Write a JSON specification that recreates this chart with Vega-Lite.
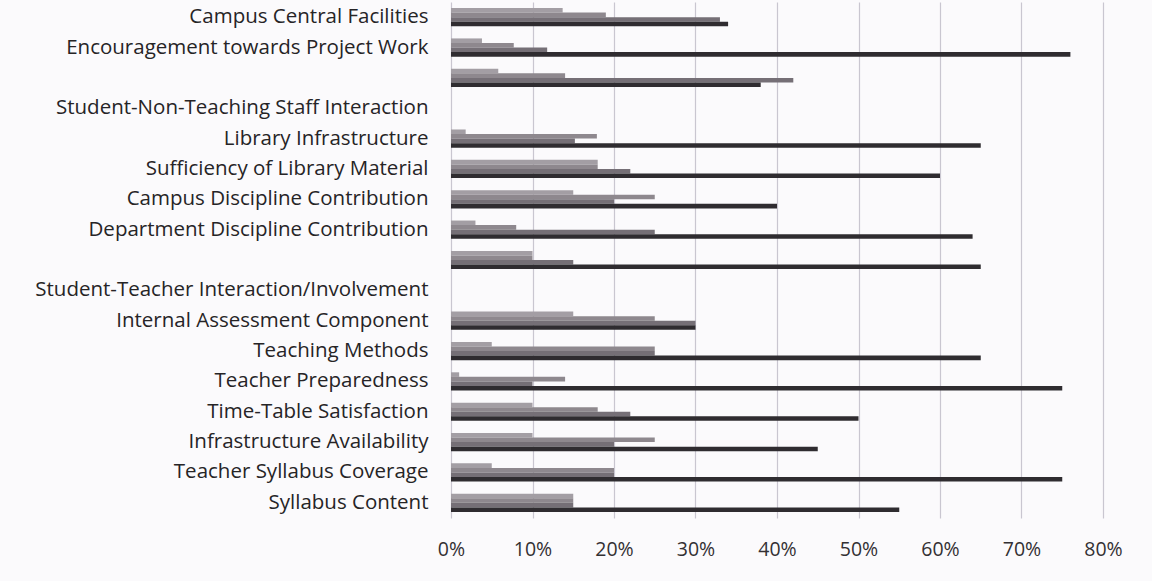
{
  "$schema": "https://vega.github.io/schema/vega-lite/v6.json",
  "autosize": {"type": "none"},
  "padding": {"left": 451, "top": 2, "right": 49, "bottom": 63},
  "width": 652,
  "height": 516,
  "background": "#fbfafc",
  "config": {"view": {"stroke": null}},
  "data": {"values": [
    {"row": "Campus Central Facilities", "series": "S1", "value": 0.137},
    {"row": "Campus Central Facilities", "series": "S2", "value": 0.19},
    {"row": "Campus Central Facilities", "series": "S3", "value": 0.33},
    {"row": "Campus Central Facilities", "series": "S4", "value": 0.34},
    {"row": "Encouragement towards Project Work", "series": "S1", "value": 0.038},
    {"row": "Encouragement towards Project Work", "series": "S2", "value": 0.077},
    {"row": "Encouragement towards Project Work", "series": "S3", "value": 0.118},
    {"row": "Encouragement towards Project Work", "series": "S4", "value": 0.76},
    {"row": "unlabelled A", "series": "S1", "value": 0.058},
    {"row": "unlabelled A", "series": "S2", "value": 0.14},
    {"row": "unlabelled A", "series": "S3", "value": 0.42},
    {"row": "unlabelled A", "series": "S4", "value": 0.38},
    {"row": "Library Infrastructure", "series": "S1", "value": 0.018},
    {"row": "Library Infrastructure", "series": "S2", "value": 0.179},
    {"row": "Library Infrastructure", "series": "S3", "value": 0.152},
    {"row": "Library Infrastructure", "series": "S4", "value": 0.65},
    {"row": "Sufficiency of Library Material", "series": "S1", "value": 0.18},
    {"row": "Sufficiency of Library Material", "series": "S2", "value": 0.18},
    {"row": "Sufficiency of Library Material", "series": "S3", "value": 0.22},
    {"row": "Sufficiency of Library Material", "series": "S4", "value": 0.60},
    {"row": "Campus Discipline Contribution", "series": "S1", "value": 0.15},
    {"row": "Campus Discipline Contribution", "series": "S2", "value": 0.25},
    {"row": "Campus Discipline Contribution", "series": "S3", "value": 0.20},
    {"row": "Campus Discipline Contribution", "series": "S4", "value": 0.40},
    {"row": "Department Discipline Contribution", "series": "S1", "value": 0.03},
    {"row": "Department Discipline Contribution", "series": "S2", "value": 0.08},
    {"row": "Department Discipline Contribution", "series": "S3", "value": 0.25},
    {"row": "Department Discipline Contribution", "series": "S4", "value": 0.64},
    {"row": "unlabelled B", "series": "S1", "value": 0.10},
    {"row": "unlabelled B", "series": "S2", "value": 0.10},
    {"row": "unlabelled B", "series": "S3", "value": 0.15},
    {"row": "unlabelled B", "series": "S4", "value": 0.65},
    {"row": "Internal Assessment Component", "series": "S1", "value": 0.15},
    {"row": "Internal Assessment Component", "series": "S2", "value": 0.25},
    {"row": "Internal Assessment Component", "series": "S3", "value": 0.30},
    {"row": "Internal Assessment Component", "series": "S4", "value": 0.30},
    {"row": "Teaching Methods", "series": "S1", "value": 0.05},
    {"row": "Teaching Methods", "series": "S2", "value": 0.25},
    {"row": "Teaching Methods", "series": "S3", "value": 0.25},
    {"row": "Teaching Methods", "series": "S4", "value": 0.65},
    {"row": "Teacher Preparedness", "series": "S1", "value": 0.01},
    {"row": "Teacher Preparedness", "series": "S2", "value": 0.14},
    {"row": "Teacher Preparedness", "series": "S3", "value": 0.10},
    {"row": "Teacher Preparedness", "series": "S4", "value": 0.75},
    {"row": "Time-Table Satisfaction", "series": "S1", "value": 0.10},
    {"row": "Time-Table Satisfaction", "series": "S2", "value": 0.18},
    {"row": "Time-Table Satisfaction", "series": "S3", "value": 0.22},
    {"row": "Time-Table Satisfaction", "series": "S4", "value": 0.50},
    {"row": "Infrastructure Availability", "series": "S1", "value": 0.10},
    {"row": "Infrastructure Availability", "series": "S2", "value": 0.25},
    {"row": "Infrastructure Availability", "series": "S3", "value": 0.20},
    {"row": "Infrastructure Availability", "series": "S4", "value": 0.45},
    {"row": "Teacher Syllabus Coverage", "series": "S1", "value": 0.05},
    {"row": "Teacher Syllabus Coverage", "series": "S2", "value": 0.20},
    {"row": "Teacher Syllabus Coverage", "series": "S3", "value": 0.20},
    {"row": "Teacher Syllabus Coverage", "series": "S4", "value": 0.75},
    {"row": "Syllabus Content", "series": "S1", "value": 0.15},
    {"row": "Syllabus Content", "series": "S2", "value": 0.15},
    {"row": "Syllabus Content", "series": "S3", "value": 0.15},
    {"row": "Syllabus Content", "series": "S4", "value": 0.55}
  ]},
  "mark": {"type": "bar", "height": {"band": 1}},
  "encoding": {
    "y": {
      "field": "row",
      "type": "nominal",
      "scale": {
        "domain": ["Campus Central Facilities", "Encouragement towards Project Work", "unlabelled A", "Student-Non-Teaching Staff Interaction", "Library Infrastructure", "Sufficiency of Library Material", "Campus Discipline Contribution", "Department Discipline Contribution", "unlabelled B", "Student-Teacher Interaction/Involvement", "Internal Assessment Component", "Teaching Methods", "Teacher Preparedness", "Time-Table Satisfaction", "Infrastructure Availability", "Teacher Syllabus Coverage", "Syllabus Content"],
        "paddingInner": 0.4,
        "paddingOuter": 0.2
      },
      "axis": {
        "title": null,
        "ticks": false,
        "domain": false,
        "labelPadding": 23,
        "labelFont": "Open Sans",
        "labelFontSize": 20.5,
        "labelColor": "#262426",
        "labelLimit": 500,
        "labelExpr": "indexof(datum.value, 'unlabelled') == 0 ? '' : datum.value"
      }
    },
    "yOffset": {"field": "series", "type": "nominal", "scale": {"paddingInner": 0}},
    "x": {
      "field": "value",
      "type": "quantitative",
      "scale": {"domain": [0, 0.8], "nice": false},
      "axis": {
        "title": null,
        "format": "%",
        "values": [0, 0.1, 0.2, 0.3, 0.4, 0.5, 0.6, 0.7, 0.8],
        "ticks": false,
        "domain": false,
        "grid": true,
        "gridColor": "#c9c6d0",
        "gridWidth": 1.2,
        "labelFlush": false,
        "labelPadding": 22,
        "labelFont": "Open Sans",
        "labelFontSize": 19.5,
        "labelColor": "#333033"
      }
    },
    "color": {
      "field": "series",
      "type": "nominal",
      "legend": null,
      "scale": {"domain": ["S1", "S2", "S3", "S4"], "range": ["#a39ea4", "#8e888e", "#756f76", "#2f2c30"]}
    }
  }
}
